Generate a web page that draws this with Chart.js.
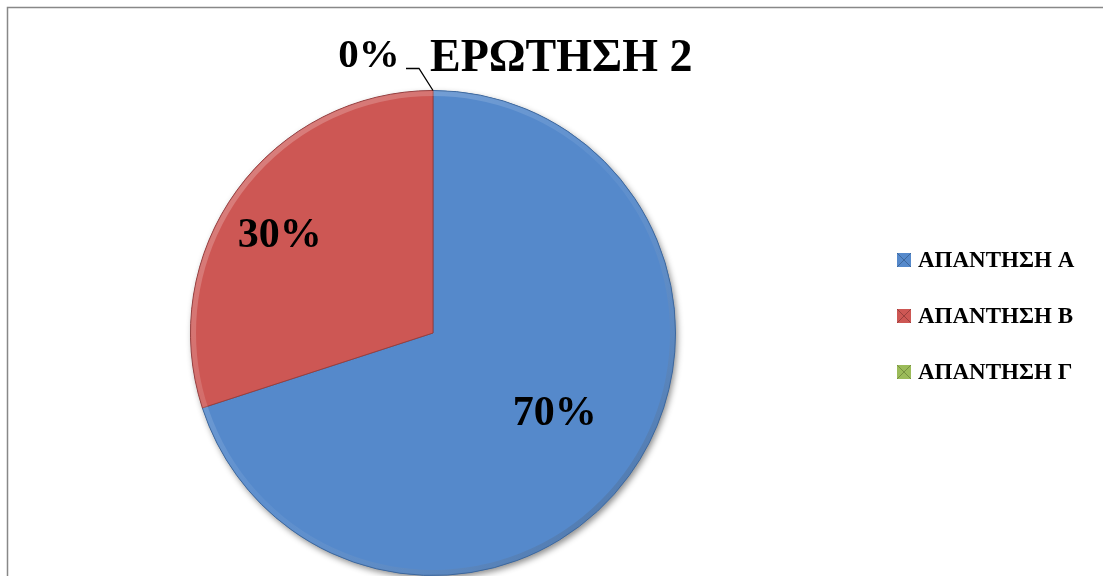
<!DOCTYPE html>
<html>
<head>
<meta charset="utf-8">
<script src="https://cdn.jsdelivr.net/npm/chart.js@4.4.0/dist/chart.umd.min.js"></script>
<style>
  html, body { margin: 0; padding: 0; background: #fff; }
  #wrap { width: 1103px; height: 576px; position: relative; }
</style>
</head>
<body>
<div id="wrap"><canvas id="pie-chart"></canvas></div>
<script>
// values
var chartTitle = 'ΕΡΩΤΗΣΗ 2';
var answers = ['ΑΠΑΝΤΗΣΗ Α', 'ΑΠΑΝΤΗΣΗ Β', 'ΑΠΑΝΤΗΣΗ Γ'];
var percents = [70, 30, 0];
var sliceColors = ['#5589cb', '#cd5754', '#9bbb59'];
var edgeColors = ['#3d679c', '#9a3f3d', '#76903f'];

var serif = '"Liberation Serif", "Times New Roman", serif';

// labels, legend, title and frame drawn on top of the pie
var decorations = {
  id: 'decorations',
  beforeDatasetsDraw: function(chart) {
    var c = chart.ctx;
    var arc = chart.getDatasetMeta(0).data[0];
    c.save();
    c.shadowColor = 'rgba(0,0,0,0.45)';
    c.shadowBlur = 6;
    c.shadowOffsetX = 2;
    c.shadowOffsetY = 3;
    c.beginPath();
    c.arc(arc.x, arc.y, arc.outerRadius, 0, Math.PI * 2);
    c.fillStyle = sliceColors[0];
    c.fill();
    c.restore();
  },
  afterDatasetsDraw: function(chart) {
    // soft bevel along the rim
    var c = chart.ctx;
    var arc = chart.getDatasetMeta(0).data[0];
    var r = arc.outerRadius;
    c.save();
    var g = c.createLinearGradient(arc.x - r, arc.y - r, arc.x + r, arc.y + r);
    g.addColorStop(0, 'rgba(255,255,255,0.30)');
    g.addColorStop(0.5, 'rgba(255,255,255,0.05)');
    g.addColorStop(1, 'rgba(0,0,0,0.25)');
    c.strokeStyle = g;
    c.lineWidth = 5;
    c.beginPath();
    c.arc(arc.x, arc.y, r - 3, 0, Math.PI * 2);
    c.stroke();
    c.restore();
  },
  afterDraw: function(chart) {
    var c = chart.ctx;
    var meta = chart.getDatasetMeta(0);
    c.save();

    // frame
    c.strokeStyle = '#888888';
    c.lineWidth = 1.5;
    c.beginPath();
    c.moveTo(7.5, 580);
    c.lineTo(7.5, 7.5);
    c.lineTo(1110, 7.5);
    c.stroke();

    // title
    c.fillStyle = '#000';
    c.font = 'bold 46px ' + serif;
    c.textAlign = 'left';
    c.textBaseline = 'alphabetic';
    c.fillText(chartTitle, 430, 71);

    // data labels
    c.font = 'bold 42px ' + serif;
    c.textAlign = 'center';
    c.textBaseline = 'middle';
    var fracs = [0.6, 0.75];
    var nudge = [[4, -4], [-6, 10]];
    meta.data.forEach(function(a, i) {
      var mid = (a.startAngle + a.endAngle) / 2;
      var txt = percents[i] + '%';
      if (percents[i] > 0) {
        var rr = a.outerRadius * fracs[i];
        c.fillText(txt, a.x + Math.cos(mid) * rr + nudge[i][0], a.y + Math.sin(mid) * rr + nudge[i][1]);
      } else {
        // outside label with leader line
        var ex = a.x + Math.cos(mid) * a.outerRadius;
        var ey = a.y + Math.sin(mid) * a.outerRadius;
        c.strokeStyle = '#000';
        c.lineWidth = 1.3;
        c.beginPath();
        c.moveTo(ex, ey);
        c.lineTo(ex - 14, ey - 22);
        c.lineTo(ex - 27, ey - 22);
        c.stroke();
        c.font = 'bold 41px ' + serif;
        c.fillText(txt, ex - 64, ey - 34);
      }
    });

    // legend
    c.font = 'bold 23px ' + serif;
    c.textAlign = 'left';
    answers.forEach(function(lbl, i) {
      var y = 260 + i * 56;
      c.fillStyle = sliceColors[i];
      c.fillRect(897, y - 7, 14, 14);
      c.strokeStyle = edgeColors[i];
      c.lineWidth = 1;
      c.beginPath();
      c.moveTo(897, y - 7); c.lineTo(911, y + 7);
      c.moveTo(911, y - 7); c.lineTo(897, y + 7);
      c.stroke();
      c.fillStyle = '#000';
      c.fillText(lbl, 918, y + 1);
    });
    c.restore();
  }
};

var ctx = document.getElementById('pie-chart');
var myPie = new Chart(ctx, {
  type: 'pie',
  data: {
    labels: answers,
    datasets: [{
      data: percents,
      backgroundColor: sliceColors,
      borderColor: edgeColors,
      borderWidth: 1
    }]
  },
  options: {
    responsive: true,
    maintainAspectRatio: false,
    animation: false,
    layout: { padding: { left: 190, top: 90, right: 427, bottom: 0 } },
    plugins: {
      legend: { display: false },
      title: { display: false },
      tooltip: { enabled: false }
    }
  },
  plugins: [decorations]
});
</script>
</body>
</html>
